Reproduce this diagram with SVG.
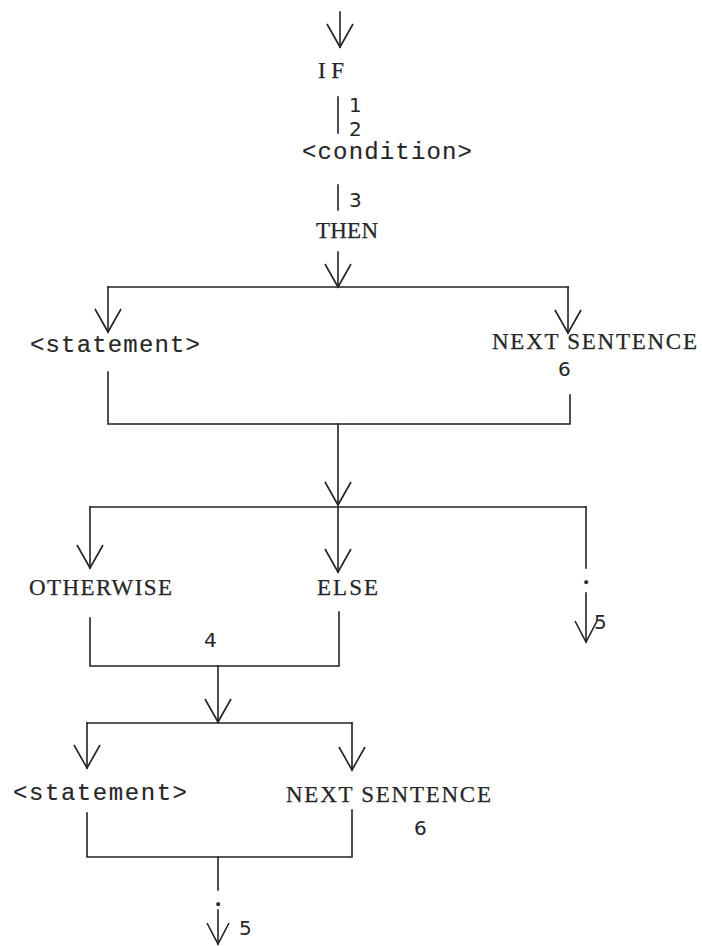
<svg xmlns="http://www.w3.org/2000/svg" width="702" height="946" viewBox="0 0 702 946">
  <style>
    .kw { font-family: "Liberation Serif", "Times New Roman", serif; font-size: 23px; fill: #262626; stroke: #262626; stroke-width: 0.25px; }
    .op { font-family: "Liberation Mono", "Courier New", monospace; font-size: 24px; fill: #262626; stroke: #262626; stroke-width: 0.15px; }
    .num { font-family: "DejaVu Sans", "Liberation Sans", sans-serif; font-size: 20px; fill: #262626; }
    .ln { fill: none; stroke: #222; stroke-width: 1.6; stroke-linecap: square; stroke-linejoin: miter; }
  </style>
  <defs>
    <marker id="v" markerUnits="userSpaceOnUse" markerWidth="40" markerHeight="40" refX="0" refY="0" orient="auto" overflow="visible">
      <path d="M-23,-13 L0,0 L-23,13" fill="none" stroke="#222" stroke-width="1.6"/>
    </marker>
    <marker id="vs" markerUnits="userSpaceOnUse" markerWidth="40" markerHeight="40" refX="0" refY="0" orient="auto" overflow="visible">
      <path d="M-21,-11 L0,0 L-21,11" fill="none" stroke="#222" stroke-width="1.6"/>
    </marker>
  </defs>
  <rect width="702" height="946" fill="#ffffff"/>

  <!-- connectors -->
  <g id="connectors" class="ln">
    <path d="M340,12 V47" marker-end="url(#v)"/>
    <path d="M338,97 V133"/>
    <path d="M338,185 V210"/>
    <path d="M338,252 V287" marker-end="url(#v)"/>
    <path d="M108,287 H568"/>
    <path d="M108,287 V332" marker-end="url(#v)"/>
    <path d="M568,287 V333" marker-end="url(#v)"/>
    <path d="M570,395 V424 H108 V372"/>
    <path d="M338,424 V505" marker-end="url(#v)"/>
    <path d="M90,507 H586"/>
    <path d="M90,507 V568" marker-end="url(#v)"/>
    <path d="M338,507 V572" marker-end="url(#v)"/>
    <path d="M586,507 V568"/>
    <path d="M586,593 V642" marker-end="url(#vs)"/>
    <path d="M90,618 V666 H339 V612"/>
    <path d="M218,666 V722" marker-end="url(#v)"/>
    <path d="M87,723 H352"/>
    <path d="M87,723 V768" marker-end="url(#v)"/>
    <path d="M352,723 V770" marker-end="url(#v)"/>
    <path d="M87,813 V857 H352 V810"/>
    <path d="M218,857 V890"/>
    <path d="M218,910 V944" marker-end="url(#vs)"/>
  </g>

  <!-- reserved words (serif) and operands (fixed pitch) -->
  <g id="if"><text class="kw" x="318" y="78" textLength="26" lengthAdjust="spacing">IF</text></g>
  <g id="condition"><text class="op" x="302" y="159" textLength="170" lengthAdjust="spacing">&lt;condition&gt;</text></g>
  <g id="then"><text class="kw" x="316" y="238" textLength="62" lengthAdjust="spacing">THEN</text></g>
  <g id="statement-1"><text class="op" x="30" y="352" textLength="170" lengthAdjust="spacing">&lt;statement&gt;</text></g>
  <g id="next-sentence-1"><text class="kw" x="492" y="349" textLength="205" lengthAdjust="spacing">NEXT SENTENCE</text></g>
  <g id="otherwise"><text class="kw" x="29" y="595" textLength="143" lengthAdjust="spacing">OTHERWISE</text></g>
  <g id="else"><text class="kw" x="317" y="595" textLength="61" lengthAdjust="spacing">ELSE</text></g>
  <g id="period-1"><text class="kw" x="586" y="584" text-anchor="middle" font-weight="bold">.</text></g>
  <g id="statement-2"><text class="op" x="13" y="800" textLength="174" lengthAdjust="spacing">&lt;statement&gt;</text></g>
  <g id="next-sentence-2"><text class="kw" x="286" y="802" textLength="205" lengthAdjust="spacing">NEXT SENTENCE</text></g>
  <g id="period-2"><text class="kw" x="218" y="906" text-anchor="middle" font-weight="bold">.</text></g>

  <!-- reference numbers -->
  <g id="refs">
    <text class="num" x="349" y="112">1</text>
    <text class="num" x="349" y="136">2</text>
    <text class="num" x="349" y="207">3</text>
    <text class="num" x="558" y="376">6</text>
    <text class="num" x="204" y="647">4</text>
    <text class="num" x="594" y="629">5</text>
    <text class="num" x="414" y="835">6</text>
    <text class="num" x="239" y="935">5</text>
  </g>
</svg>
